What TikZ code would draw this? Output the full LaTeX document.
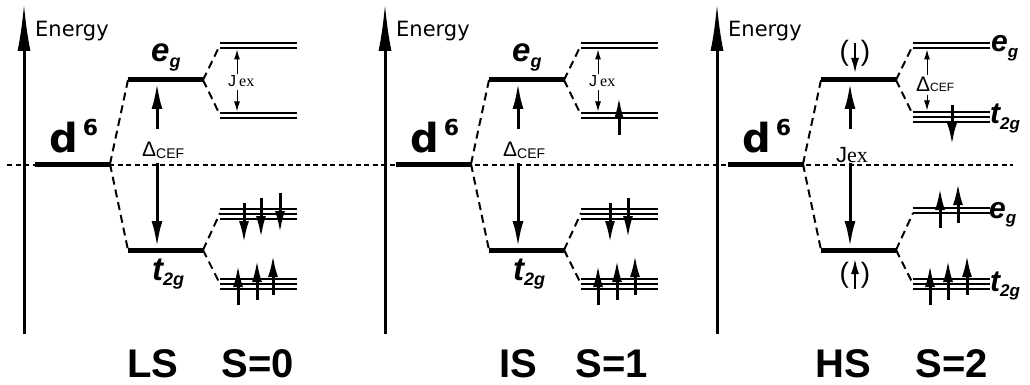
\documentclass[tikz,border=0pt]{standalone}
\usepackage{fontspec}
\setmainfont{Liberation Serif}
\setsansfont{Liberation Sans}
\newfontfamily\energyfont{DejaVu Sans}
\usetikzlibrary{arrows.meta}

\newcommand{\fs}[1]{\fontsize{#1}{#1}\selectfont}
\newcommand{\orb}[3]{#1{\fs{#3}\raisebox{-0.3em}{#2}}}

\tikzset{
  level/.style={line width=5pt},
  sublevel/.style={line width=1.8pt},
  link/.style={line width=2pt, dash pattern=on 8pt off 5pt},
  zeroline/.style={line width=1.2pt, dash pattern=on 5pt off 3.5pt},
  axis/.style={line width=3pt, -{Latex[length=48pt,width=13pt]}},
  gap/.style={line width=3pt, -{Latex[length=26pt,width=11pt]}},
  split/.style={line width=1pt, -{Latex[length=10pt,width=6pt]}},
  spin/.style={line width=3pt, -{Latex[length=22pt,width=10pt]}},
  parenspin/.style={line width=2.5pt, -{Latex[length=16pt,width=8pt]}},
  txt/.style={inner sep=0pt, anchor=base west},
  orbbig/.style={txt, font=\sffamily\bfseries\itshape\fs{33}},
  orbside/.style={txt, font=\sffamily\bfseries\itshape\fs{30}},
  state/.style={inner sep=0pt, anchor=base, font=\sffamily\bfseries\fs{40}},
}

\begin{document}
\begin{tikzpicture}[x=1pt,y=-1pt]
\path[fill=white, use as bounding box] (0,0) rectangle (1030,385);

\coordinate (zl) at (7,165);
\coordinate (zr) at (1013,165);
\draw[zeroline] (zl) -- (zr);

\foreach \p/\X/\ma/\mb in {a/24/{113,118}/{209,214,219},b/385/{113,118}/{209,214,219},c/717/{112,117,122}/{208,213}}{
  \coordinate (\p-ax0) at (\X,334);
  \coordinate (\p-ax1) at (\X,3);
  \draw[axis] (\p-ax0) -- (\p-ax1);
  \node[txt, font=\energyfont\fs{21}] (\p-en) at (\X+11,37) {Energy};

  \coordinate (\p-d6l) at (\X+11,164);
  \coordinate (\p-d6r) at (\X+86,164);
  \coordinate (\p-egl) at (\X+104,80);
  \coordinate (\p-egr) at (\X+179,80);
  \coordinate (\p-tgl) at (\X+104,250);
  \coordinate (\p-tgr) at (\X+179,250);
  \draw[level] (\p-d6l) -- (\p-d6r);
  \draw[level] (\p-egl) -- (\p-egr);
  \draw[level] (\p-tgl) -- (\p-tgr);
  \node[txt, font=\energyfont\bfseries\fs{40}] (\p-d6) at (\X+25,152) {d\kern5pt\raisebox{17pt}{\fs{22}6}};

  \draw[link] (\p-d6r) -- (\p-egl);
  \draw[link] (\p-d6r) -- (\p-tgl);

  \coordinate (\p-u1) at (\X+196,45);
  \coordinate (\p-u2) at (\X+196,115);
  \coordinate (\p-l1) at (\X+196,213);
  \coordinate (\p-l2) at (\X+196,284);
  \draw[link] (\p-egr) -- (\p-u1);
  \draw[link] (\p-egr) -- (\p-u2);
  \draw[link] (\p-tgr) -- (\p-l1);
  \draw[link] (\p-tgr) -- (\p-l2);

  \foreach \y in {43,48} \draw[sublevel] (\X+196,\y) -- (\X+273,\y);
  \foreach \y in \ma \draw[sublevel] (\X+196,\y) -- (\X+273,\y);
  \foreach \y in \mb \draw[sublevel] (\X+196,\y) -- (\X+273,\y);
  \foreach \y in {279,284,289} \draw[sublevel] (\X+196,\y) -- (\X+273,\y);

  \coordinate (\p-g1) at (\X+133,129);
  \coordinate (\p-g2) at (\X+133,163);
  \coordinate (\p-egb) at (\X+133,83);
  \coordinate (\p-tgt) at (\X+133,247);
  \draw[gap] (\p-g1) -- (\p-egb);
  \draw[gap] (\p-g2) -- (\p-tgt);
}

\foreach \p/\X in {a/24,b/385}{
  \node[orbbig] (\p-eglab) at (\X+127,62) {\orb{e}{g}{18}};
  \node[orbbig] (\p-tglab) at (\X+128,280) {\orb{t}{2g}{18}};
  \node[txt, font=\sffamily\fs{21}] (\p-dcef) at (\X+118,156) {Δ\raisebox{-2pt}{\fs{14}CEF}};

  \coordinate (\p-j1) at (\X+213,74);
  \coordinate (\p-j1t) at (\X+213,49.5);
  \coordinate (\p-j2) at (\X+213,90);
  \coordinate (\p-j2t) at (\X+213,111.5);
  \draw[split] (\p-j1) -- (\p-j1t);
  \draw[split] (\p-j2) -- (\p-j2t);
  \node[txt, font=\fs{16}] (\p-jex) at (\X+204,87) {{\sffamily J}\kern3pt ex};
}

\foreach \x/\t in {244/203,261/198,280/193} \draw[spin] (\x,\t) -- (\x,\t+40);
\foreach \x/\t in {238/305,257/300,273/295} \draw[spin] (\x,\t) -- (\x,\t-40);

\draw[spin] (619,135) -- (619,97);
\foreach \x/\t in {610/203,628/198} \draw[spin] (\x,\t) -- (\x,\t+40);
\foreach \x/\t in {598/305,617/300,635/295} \draw[spin] (\x,\t) -- (\x,\t-40);

\node[txt, font=\fs{22}] (c-jex) at (836,162) {{\sffamily J}ex};
\node[inner sep=0pt, font=\sffamily\fs{28}] (c-pdn) at (855,53) {(\hspace{12pt})};
\node[inner sep=0pt, font=\sffamily\fs{28}] (c-pup) at (855,275) {(\hspace{12pt})};
\draw[parenspin] (855,43) -- (855,74);
\draw[parenspin] (855,289) -- (855,258);

\coordinate (c-d1) at (927,75);
\coordinate (c-d1t) at (927,49.5);
\coordinate (c-d2) at (927,95);
\coordinate (c-d2t) at (927,110.5);
\draw[split] (c-d1) -- (c-d1t);
\draw[split] (c-d2) -- (c-d2t);
\node[txt, font=\sffamily\fs{21}] (c-dcef) at (916,92) {Δ\fs{12}CEF};

\draw[spin] (952,105) -- (952,145);
\foreach \x/\t in {940/228,958/223} \draw[spin] (\x,\t) -- (\x,\t-40);
\foreach \x/\t in {930/305,948/300,967/295} \draw[spin] (\x,\t) -- (\x,\t-40);

\node[orbside] (c-eg1) at (991,52) {\orb{e}{g}{17}};
\node[orbside] (c-tg1) at (990,124) {\orb{t}{2g}{17}};
\node[orbside] (c-eg2) at (989,218) {\orb{e}{g}{17}};
\node[orbside] (c-tg2) at (990,291) {\orb{t}{2g}{17}};

\node[state] (ls) at (153,377) {LS};
\node[state] (s0) at (258,377) {S=0};
\node[state] (is) at (518,377) {IS};
\node[state] (s1) at (612,377) {S=1};
\node[state] (hs) at (843,377) {HS};
\node[state] (s2) at (952,377) {S=2};
\end{tikzpicture}
\end{document}
